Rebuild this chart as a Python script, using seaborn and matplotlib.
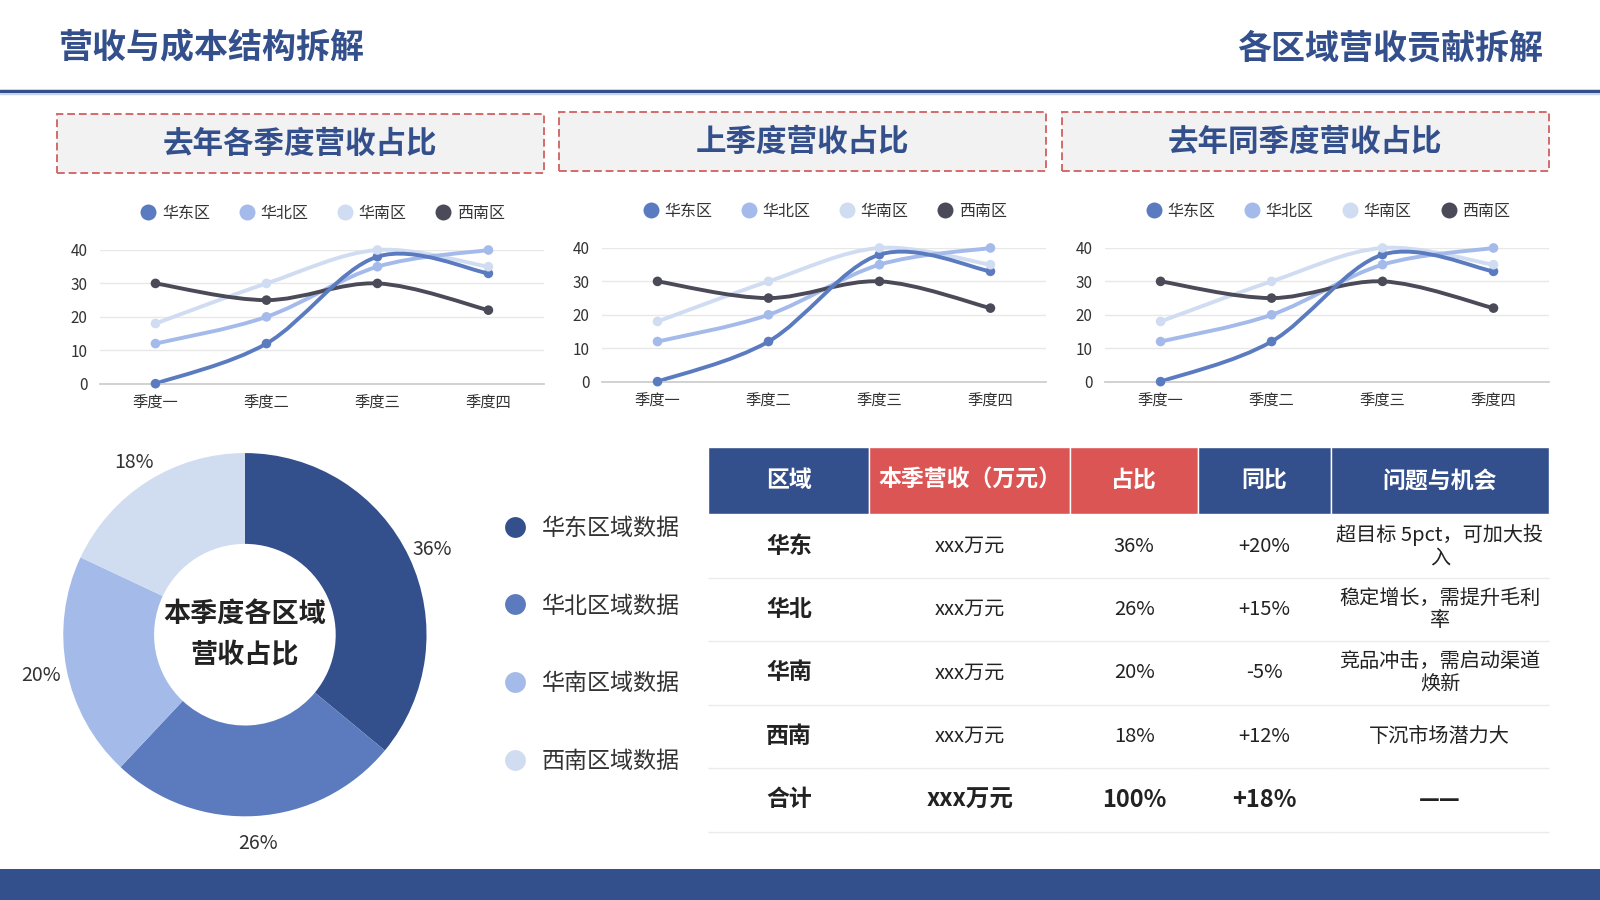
import numpy as np
import pandas as pd
import seaborn as sns
import matplotlib.pyplot as plt
from matplotlib.path import Path
from matplotlib.patches import PathPatch, Rectangle
from matplotlib.lines import Line2D

# ---- data ----
quarters = ["季度一", "季度二", "季度三", "季度四"]
regions = ["华东区", "华北区", "华南区", "西南区"]
east = [0, 12, 38, 33]
north = [12, 20, 35, 40]
south = [18, 30, 40, 35]
southwest = [30, 25, 30, 22]
line_colors = ["#5B7BC0", "#A4BAEA", "#D0DCF1", "#4A4A58"]

panel_titles = ["去年各季度营收占比", "上季度营收占比", "去年同季度营收占比"]

share_labels = ["华东区域数据", "华北区域数据", "华南区域数据", "西南区域数据"]
shares = [36, 26, 20, 18]
donut_colors = ["#34508C", "#5B7BBE", "#A4BAE9", "#D0DCF0"]

table_header = ["区域", "本季营收（万元）", "占比", "同比", "问题与机会"]
table_regions = ["华东", "华北", "华南", "西南", "合计"]
table_revenue = ["xxx万元", "xxx万元", "xxx万元", "xxx万元", "xxx万元"]
table_share = ["36%", "26%", "20%", "18%", "100%"]
table_yoy = ["+20%", "+15%", "-5%", "+12%", "+18%"]
table_notes = ["超目标 5pct，可加大投\n入", "稳定增长，需提升毛利\n率",
               "竞品冲击，需启动渠道\n焕新", "下沉市场潜力大", "——"]

BLUE = "#34508C"
RED = "#DB5555"
TXT = "#333333"

sns.set_theme(style="white")
plt.rcParams['font.family'] = ['Noto Sans CJK SC', 'DejaVu Sans']

W, H = 1568, 882


def fx(x):
    return x / W


def fy(y):
    return 1 - y / H


def rect(x0, y0, x1, y1):
    return [fx(x0), fy(y1), (x1 - x0) / W, (y1 - y0) / H]


def smooth_path(ys, t=1 / 6):
    pts = np.column_stack([np.arange(len(ys)), ys]).astype(float)
    n = len(pts)
    verts = [pts[0]]
    codes = [Path.MOVETO]
    for i in range(n - 1):
        p_prev = pts[max(i - 1, 0)]
        p_next = pts[min(i + 2, n - 1)]
        c1 = pts[i] + (pts[i + 1] - p_prev) * t
        c2 = pts[i + 1] - (p_next - pts[i]) * t
        verts += [c1, c2, pts[i + 1]]
        codes += [Path.CURVE4] * 3
    return Path(verts, codes)


fig = plt.figure(figsize=(16, 9), dpi=100)
fig.patch.set_facecolor("white")

# ---- header ----
fig.text(fx(57), fy(47), "营收与成本结构拆解", fontsize=24.5, fontweight="heavy",
         color=BLUE, ha="left", va="center")
fig.text(fx(1512), fy(47), "各区域营收贡献拆解", fontsize=24.5, fontweight="heavy",
         color=BLUE, ha="right", va="center")
fig.add_artist(Line2D([0, 1], [fy(89), fy(89)], color=BLUE, lw=2.5))
fig.add_artist(Line2D([0, 1], [fy(92), fy(92)], color="#C5D2EA", lw=1))

# bottom band
fig.add_artist(Rectangle((0, 0), 1, 30 / H, transform=fig.transFigure,
                         facecolor=BLUE, edgecolor="none"))

# ---- line charts ----
series = [east, north, south, southwest]
long_df = pd.DataFrame({
    "quarter": quarters * 4,
    "value": east + north + south + southwest,
    "region": sum([[r] * 4 for r in regions], []),
})

panel_offsets = [(0, 0), (492, -2), (985, -2)]
for k, (dx, dy) in enumerate(panel_offsets):
    # title box
    fig.add_artist(Rectangle((fx(56 + dx), fy(170 + dy)), 477 / W, 58 / H,
                             transform=fig.transFigure, facecolor="#F2F2F2",
                             edgecolor="#D46A6A", lw=1.4, linestyle=(0, (4, 2))))
    fig.text(fx(294 + dx), fy(141 + dy), panel_titles[k], fontsize=22,
             fontweight="heavy", color=BLUE, ha="center", va="center")

    ax = fig.add_axes(rect(98 + dx, 245 + dy, 533 + dx, 376 + dy))
    order = [2, 1, 3, 0]
    for i in order:
        ax.add_patch(PathPatch(smooth_path(series[i]), facecolor="none",
                               edgecolor=line_colors[i], lw=2.8, zorder=2,
                               clip_on=False, capstyle="round"))
    sns.scatterplot(data=long_df, x="quarter", y="value", hue="region",
                    hue_order=regions, palette=line_colors, s=48, linewidth=0,
                    legend=False, zorder=3, clip_on=False, ax=ax)
    ax.set_xlim(-0.5, 3.5)
    ax.set_ylim(0, 40)
    ax.set_yticks([0, 10, 20, 30, 40])
    ax.set_xlabel("")
    ax.set_ylabel("")
    ax.grid(axis="y", color="#E8E8E8", lw=1)
    ax.set_axisbelow(True)
    for s in ["left", "right", "top"]:
        ax.spines[s].set_visible(False)
    ax.spines["bottom"].set_color("#CCCCCC")
    ax.tick_params(axis="both", length=0, labelsize=11, labelcolor=TXT)
    ax.tick_params(axis="y", pad=9)
    ax.tick_params(axis="x", pad=8)
    handles = [Line2D([], [], marker="o", ls="none", ms=11.5, color=c,
                      markeredgewidth=0) for c in line_colors]
    ax.legend(handles, regions, loc="center", ncol=4, frameon=False,
              bbox_to_anchor=(0.5, (376 - 209) / 131), fontsize=11.5,
              handletextpad=0.25, columnspacing=1.7, labelcolor=TXT,
              handlelength=1.2)

# ---- donut ----
R = 178
half = 1.3 * R
dax = fig.add_axes(rect(240 - half, 622 - half, 240 + half, 622 + half))
wedges, pct_texts = dax.pie(shares, colors=donut_colors, startangle=90,
                            counterclock=False, radius=1,
                            labels=[f"{v}%" for v in shares], labeldistance=1.14,
                            wedgeprops=dict(width=0.5, linewidth=0),
                            textprops=dict(fontsize=14, color=TXT))
for t in pct_texts:
    t.set_ha("center")
    t.set_va("center_baseline")
dax.set_xlim(-1.3, 1.3)
dax.set_ylim(-1.3, 1.3)
dax.axis("off")
dax.text(0, 0, "本季度各区域\n营收占比", ha="center", va="center", fontsize=19.5,
         fontweight="bold", color="#222222", linespacing=1.6)

dhandles = [Line2D([], [], marker="o", ls="none", ms=15, color=c,
                   markeredgewidth=0) for c in donut_colors]
fig.legend(dhandles, share_labels, loc="upper left",
           bbox_to_anchor=(fx(473), fy(486)), frameon=False, fontsize=16.6,
           labelspacing=2.38, handletextpad=0.65, labelcolor=TXT,
           handlelength=1.0)

# ---- table ----
tax = fig.add_axes(rect(694, 438, 1518, 815))
tax.axis("off")
body = [list(r) for r in zip(table_regions, table_revenue, table_share,
                             table_yoy, table_notes)]
col_w = np.array([158, 197, 125, 130, 214]) / 824
tbl = tax.table(cellText=body, colLabels=table_header, colWidths=col_w,
                cellLoc="center", bbox=[0, 0, 1, 1])
tbl.auto_set_font_size(False)
header_colors = [BLUE, RED, RED, BLUE, BLUE]
for (r, c), cell in tbl.get_celld().items():
    txt = cell.get_text()
    if r == 0:
        cell.set_height(66)
        cell.set_facecolor(header_colors[c])
        cell.set_edgecolor("white")
        cell.set_linewidth(1)
        txt.set_color("white")
        txt.set_fontsize(16.5)
        txt.set_fontweight("bold")
    else:
        cell.set_height(62.2)
        cell.set_facecolor("white")
        cell.set_edgecolor("#EBEBEB")
        cell.set_linewidth(1)
        cell.visible_edges = "B"
        txt.set_color("#222222")
        txt.set_linespacing(1.1)
        if r == 5:
            txt.set_fontsize(17 if c in (1, 2, 3) else 16.5)
            txt.set_fontweight("bold")
        elif c == 0:
            txt.set_fontsize(16.5)
            txt.set_fontweight("bold")
        else:
            txt.set_fontsize(14.5)

fig.savefig("out.png", dpi=100, facecolor="white")
